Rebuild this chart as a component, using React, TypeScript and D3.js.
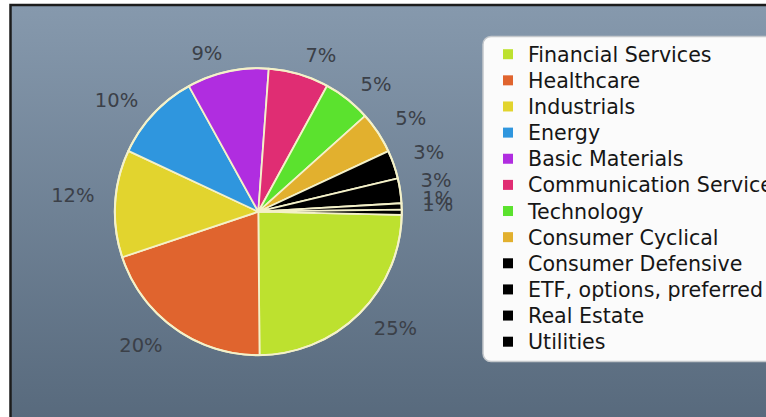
import React from "react";
import * as d3 from "d3";

const categories = [
  "Financial Services",
  "Healthcare",
  "Industrials",
  "Energy",
  "Basic Materials",
  "Communication Services",
  "Technology",
  "Consumer Cyclical",
  "Consumer Defensive",
  "ETF, options, preferred",
  "Real Estate",
  "Utilities",
];
const shares = [24.5, 20, 12.1, 10, 9.2, 6.8, 5.4, 4.7, 3.2, 2.8, 0.7, 0.6];
const colors = [
  "#bde12f",
  "#e0642e",
  "#e2d42e",
  "#2f96de",
  "#b02de0",
  "#e02d73",
  "#5be22e",
  "#e2b02e",
  "#000000",
  "#000000",
  "#000000",
  "#000000",
];

const W = 766;
const H = 417;
const CX = 258.3;
const CY = 211.7;
const R = 143.5;
const START = (91.3 * Math.PI) / 180;
const LABEL_R = 163;
const LABEL_FS = 19.5;
const LEG_FS = 20.6;

export default function App() {
  const pie = d3
    .pie<number>()
    .sort(null)
    .value((d) => d)
    .startAngle(START)
    .endAngle(START + 2 * Math.PI);
  const arcs = pie(shares);
  const arc = d3.arc<d3.PieArcDatum<number>>().innerRadius(0).outerRadius(R);
  const total = d3.sum(shares);

  const legY = d3
    .scaleLinear()
    .domain([0, categories.length - 1])
    .range([54.2, 341.7]);

  return (
    <div style={{ position: "absolute", left: 0, top: 0 }}>
      <svg width={W} height={H} style={{ display: "block" }}>
        <defs>
          <linearGradient id="bg" x1="0" y1="0" x2="0" y2="1">
            <stop offset="0%" stopColor="#8699ad" />
            <stop offset="100%" stopColor="#56687b" />
          </linearGradient>
        </defs>
        <rect x={0} y={0} width={W} height={H} fill="#ffffff" />
        <rect
          x={10.5}
          y={5}
          width={800}
          height={430}
          fill="url(#bg)"
          stroke="#1c1c1c"
          strokeWidth={2.5}
        />
        <g transform={`translate(${CX},${CY})`}>
          {arcs.map((a, i) => (
            <path
              key={categories[i]}
              d={arc(a) || ""}
              fill={colors[i]}
              stroke="#f4f1c9"
              strokeWidth={1.8}
              strokeLinejoin="round"
            />
          ))}
          <circle r={R} fill="none" stroke="#f4f1c9" strokeWidth={2} />
        </g>
        {arcs.map((a, i) => {
          const mid = (a.startAngle + a.endAngle) / 2;
          const s = Math.sin(mid);
          const c = Math.cos(mid);
          const px = CX + LABEL_R * s + (s >= 0 ? 1 : -1);
          const shift = -8 * Math.max(0, (Math.abs(s) - 0.7) / 0.3);
          const py = CY - LABEL_R * c + shift;
          const pct = Math.round((shares[i] / total) * 100);
          return (
            <text
              key={"l" + i}
              x={px}
              y={py + 0.365 * LABEL_FS}
              textAnchor={s >= 0 ? "start" : "end"}
              fontFamily="DejaVu Sans"
              fontSize={LABEL_FS}
              fill="#3b4048"
            >
              {pct}%
            </text>
          );
        })}
        <rect
          x={483}
          y={36.5}
          width={320}
          height={325}
          rx={8}
          ry={8}
          fill="#fbfbfb"
          stroke="#c4c8cc"
          strokeWidth={1.5}
        />
        {categories.map((name, i) => {
          const y = legY(i);
          return (
            <g key={"g" + i}>
              <rect x={503} y={y - 5} width={10} height={10} fill={colors[i]} />
              <text
                x={528}
                y={y + 0.365 * LEG_FS}
                fontFamily="DejaVu Sans"
                fontSize={LEG_FS}
                fill="#161616"
              >
                {name}
              </text>
            </g>
          );
        })}
      </svg>
    </div>
  );
}
